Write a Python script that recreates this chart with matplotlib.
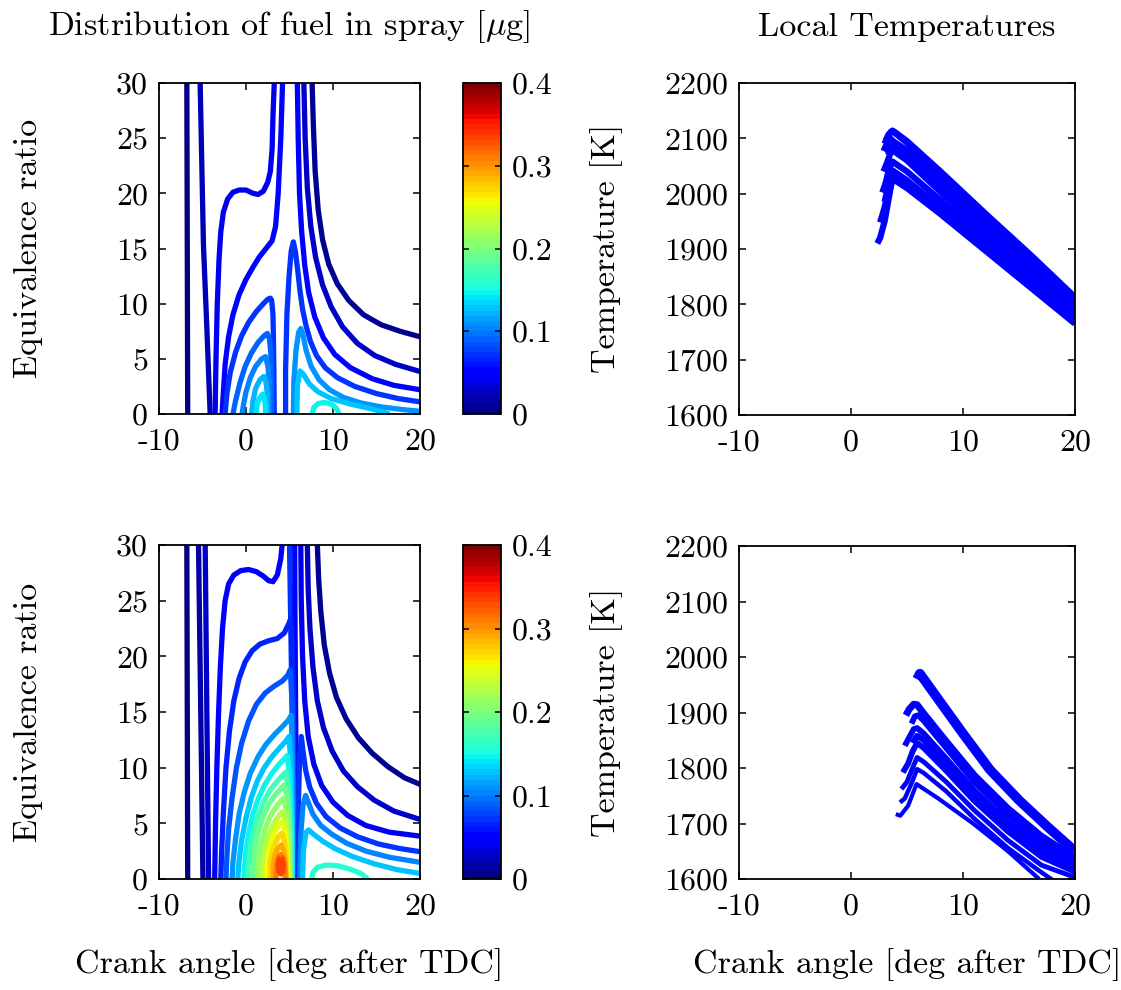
import matplotlib
matplotlib.use("Agg")
import matplotlib.pyplot as plt
from matplotlib.colors import Normalize
from matplotlib.cm import ScalarMappable

plt.rcParams['font.family'] = 'cmr10'
plt.rcParams['mathtext.fontset'] = 'cm'
plt.rcParams['axes.unicode_minus'] = False

# ---- fuel distribution, top panel: contour level [ug] and line points ----
top_levels = [0.005, 0.02, 0.04, 0.055, 0.075, 0.09, 0.105, 0.12, 0.14,
              0.008, 0.03, 0.045, 0.075, 0.11, 0.13, 0.15]
top_x = [
    [-6.8, -6.75, -6.7],
    [-5.27, -4.89, -4.5, -4.12],
    [3.25, 3.1, 3.0, 2.8, 2.5, 2.0, 1.4, 0.8, 0.0, -0.8, -1.5, -2.1, -2.6, -2.9, -3.1, -3.3, -3.45, -3.55],
    [4.2, 4.0, 3.7, 3.4, 3.0, 2.3, 1.5, 0.8, 0.0, -0.8, -1.5, -2.0, -2.4, -2.6, -2.75],
    [3.25, 3.2, 3.15, 3.1, 2.95, 2.8, 2.5, 2.0, 1.2, 0.3, -0.5, -1.2, -1.8, -2.2, -2.4],
    [2.95, 2.95, 2.85, 2.7, 2.45, 2.1, 1.4, 0.6, -0.1, -0.7, -1.2, -1.5],
    [2.65, 2.65, 2.55, 2.25, 1.8, 1.1, 0.5, 0.0, -0.3, -0.45],
    [2.45, 2.45, 2.3, 2.05, 1.6, 1.1, 0.8, 0.65],
    [2.25, 2.2, 1.9, 1.5, 1.25, 1.15],
    [7.6, 7.75, 7.95, 8.3, 8.8, 9.5, 10.5, 11.8, 13.5, 15.5, 17.7, 20],
    [6.65, 6.8, 7.05, 7.45, 8.0, 8.8, 9.8, 11.1, 12.8, 14.8, 17.2, 20],
    [5.9, 6.0, 6.15, 6.4, 6.75, 7.2, 7.9, 8.9, 10.2, 12.0, 14.5, 17.0, 20],
    [4.55, 4.55, 4.7, 4.95, 5.2, 5.45, 5.7, 5.95, 6.2, 6.5, 6.9, 7.4, 8.1, 9.1, 10.5, 12.5, 15.0, 17.5, 20],
    [5.45, 5.5, 5.75, 6.05, 6.3, 6.55, 6.9, 7.5, 8.4, 9.6, 11.2, 13.2, 15.5, 18.0, 20],
    [5.85, 5.9, 6.2, 6.6, 7.3, 8.3, 9.8, 12.0, 14.5, 16.5],
    [7.6, 7.8, 8.3, 9.0, 9.8, 10.4, 10.7],
]
top_y = [
    [30, 15, 0],
    [30, 15.3, 7.8, 0],
    [30, 27, 24, 22, 21, 20.2, 19.9, 20.0, 20.3, 20.3, 20.1, 19.5, 18.3, 16.5, 14, 10, 5, 0],
    [30, 25, 20, 17, 15.7, 15, 14.2, 13.3, 12.2, 10.8, 9, 7, 4.5, 2, 0],
    [0, 4, 7, 9, 10.3, 10.5, 10.4, 10.0, 9.3, 8.3, 7.1, 5.6, 3.8, 1.8, 0],
    [0, 3, 5.5, 6.8, 7.3, 7.1, 6.5, 5.5, 4.3, 2.8, 1.2, 0],
    [0, 2.5, 4.2, 5.2, 5.0, 4.3, 3.3, 2.0, 0.8, 0],
    [0, 1.8, 2.9, 3.4, 3.1, 2.3, 1.2, 0],
    [0, 1.0, 1.8, 1.4, 0.7, 0],
    [30, 26, 22, 18.5, 15.8, 13.6, 11.8, 10.3, 9.0, 8.1, 7.5, 7.0],
    [30, 25, 20.5, 17, 14.2, 11.7, 9.7, 7.9, 6.4, 5.3, 4.5, 3.85],
    [30, 25, 20, 16.5, 13.5, 11, 8.8, 6.9, 5.4, 4.2, 3.2, 2.6, 2.2],
    [0, 4, 9, 12.5, 14.8, 15.6, 14.6, 13, 11.2, 9.5, 8.0, 6.6, 5.3, 4.2, 3.3, 2.5, 1.85, 1.4, 1.1],
    [0, 3, 5.8, 7.4, 7.75, 7.2, 5.8, 4.3, 3.1, 2.2, 1.5, 1.0, 0.65, 0.4, 0.25],
    [0, 2.5, 3.9, 3.6, 2.7, 2.0, 1.4, 0.9, 0.45, 0],
    [0, 0.6, 0.95, 1.05, 0.9, 0.5, 0],
]

# ---- fuel distribution, bottom panel ----
bot_levels = [0.005, 0.015, 0.025, 0.045, 0.075, 0.055,
              0.065, 0.085, 0.11, 0.13, 0.15, 0.17, 0.19, 0.21, 0.23,
              0.25, 0.27, 0.29, 0.31, 0.335,
              0.008, 0.025, 0.04, 0.07, 0.10, 0.13, 0.16]
bot_x = [
    [-6.8, -6.75, -6.7],
    [-5.46, -5.2, -4.95],
    [-4.69, -4.5, -4.3],
    [4.15, 4.0, 3.6, 3.1, 2.6, 2.0, 1.2, 0.3, -0.6, -1.4, -2.0, -2.4, -2.7, -2.95, -3.15, -3.35, -3.5, -3.6],
    [5.0, 5.1, 5.2, 5.3, 5.4, 5.5, 5.55],
    [5.6, 5.62, 5.66, 5.7, 5.75, 5.8],
    [5.55, 5.5, 5.45, 5.3, 5.15, 4.9, 4.4, 3.6, 2.6, 1.6, 0.7, -0.1, -0.8, -1.4, -1.9, -2.3, -2.6, -2.8, -2.9],
    [5.5, 5.45, 5.35, 5.1, 4.8, 4.2, 3.2, 2.2, 1.2, 0.3, -0.5, -1.1, -1.6, -2.0, -2.2, -2.3],
    [5.45, 5.4, 5.3, 5.2, 4.9, 4.2, 3.3, 2.3, 1.4, 0.5, -0.2, -0.8, -1.2, -1.5, -1.6],
    [5.4, 5.3, 5.15, 4.95, 4.6, 3.9, 3.0, 2.1, 1.3, 0.6, 0.0, -0.5, -0.8, -0.95],
    [5.3, 5.2, 5.0, 4.75, 4.4, 3.7, 2.9, 2.1, 1.4, 0.8, 0.3, -0.05, -0.25],
    [5.2, 5.1, 4.85, 4.55, 4.2, 3.5, 2.7, 2.0, 1.4, 0.9, 0.5, 0.3, 0.2],
    [5.1, 5.0, 4.75, 4.4, 4.0, 3.3, 2.6, 2.0, 1.5, 1.1, 0.85, 0.75],
    [5.0, 4.9, 4.65, 4.3, 3.9, 3.3, 2.7, 2.2, 1.8, 1.5, 1.35, 1.3],
    [4.9, 4.8, 4.55, 4.2, 3.8, 3.3, 2.8, 2.4, 2.1, 1.9, 1.85],
    [4.8, 4.7, 4.45, 4.15, 3.75, 3.3, 2.9, 2.6, 2.4, 2.35],
    [4.7, 4.6, 4.4, 4.1, 3.75, 3.35, 3.0, 2.8, 2.75],
    [4.6, 4.5, 4.3, 4.05, 3.7, 3.35, 3.15, 3.1],
    [4.5, 4.45, 4.25, 4.0, 3.7, 3.5, 3.45, 3.45],
    [4.0, 4.2, 4.28, 4.2, 4.0, 3.8, 3.72, 3.8, 4.0],
    [8.2, 8.35, 8.6, 9.0, 9.6, 10.4, 11.5, 12.9, 14.5, 16.3, 18.2, 20],
    [7.05, 7.15, 7.35, 7.7, 8.2, 8.9, 9.9, 11.2, 12.8, 14.7, 17.0, 20],
    [6.3, 6.35, 6.5, 6.75, 7.15, 7.8, 8.7, 10.0, 11.7, 13.8, 16.5, 20],
    [5.95, 6.0, 6.15, 6.35, 6.55, 6.85, 7.3, 8.1, 9.2, 10.8, 12.8, 15.2, 17.6, 20],
    [6.2, 6.3, 6.55, 6.85, 7.15, 7.7, 8.6, 9.9, 11.6, 13.8, 16.5, 20],
    [6.5, 6.6, 6.9, 7.2, 7.8, 8.8, 10.3, 12.3, 14.8, 17.3, 20],
    [7.55, 7.7, 8.2, 9.2, 10.5, 11.9, 13.2, 14.0],
]
bot_y = [
    [30, 15, 0],
    [30, 15, 0],
    [30, 15, 0],
    [30, 28.8, 27.3, 26.7, 26.8, 27.2, 27.6, 27.8, 27.7, 27.3, 26.5, 25.0, 22.5, 19, 15, 10, 5, 0],
    [30, 25, 20, 15, 10, 5, 0],
    [30, 25, 20, 15, 10, 0],
    [0, 8, 16, 21, 23.4, 22.9, 22.1, 21.6, 21.4, 21.1, 20.5, 19.5, 18.0, 16.0, 13.3, 10, 6, 2.5, 0],
    [0, 8, 15, 18.8, 18.3, 17.8, 17.3, 16.7, 15.7, 14.2, 12.2, 10, 7.3, 4.5, 2, 0],
    [0, 7, 12, 14.7, 14.3, 13.7, 13.0, 12.1, 11.0, 9.5, 7.8, 5.8, 3.6, 1.5, 0],
    [0, 6, 10.5, 12.8, 12.4, 11.8, 11.0, 10.0, 8.8, 7.3, 5.5, 3.5, 1.6, 0],
    [0, 5, 9.3, 11.1, 10.8, 10.2, 9.4, 8.4, 7.2, 5.8, 4.1, 2.3, 0],
    [0, 4.5, 8.2, 9.6, 9.3, 8.7, 7.9, 6.9, 5.7, 4.3, 2.7, 1.2, 0],
    [0, 4, 7.2, 8.45, 8.1, 7.5, 6.7, 5.7, 4.5, 3.1, 1.6, 0],
    [0, 3.5, 6.2, 7.25, 6.9, 6.3, 5.5, 4.5, 3.3, 2.0, 0.8, 0],
    [0, 3, 5.2, 6.05, 5.7, 5.1, 4.3, 3.3, 2.2, 1.0, 0],
    [0, 2.5, 4.4, 5.15, 4.8, 4.2, 3.4, 2.4, 1.3, 0],
    [0, 2.0, 3.5, 4.1, 3.8, 3.2, 2.4, 1.4, 0],
    [0, 1.5, 2.6, 3.05, 2.8, 2.2, 1.3, 0],
    [0, 1.1, 1.9, 2.2, 1.95, 1.3, 0.5, 0],
    [1.95, 1.75, 1.2, 0.65, 0.45, 0.65, 1.2, 1.75, 1.95],
    [30, 27, 24, 21, 18.5, 16.3, 14.4, 12.7, 11.3, 10.1, 9.1, 8.5],
    [30, 26, 22.5, 19, 16, 13.6, 11.5, 9.7, 8.3, 7.1, 6.1, 5.35],
    [30, 25, 20, 16, 12.8, 10.3, 8.4, 6.9, 5.7, 4.8, 4.2, 3.85],
    [0, 6, 10.5, 12.8, 11.5, 9.8, 8.3, 6.8, 5.6, 4.6, 3.8, 3.15, 2.75, 2.45],
    [0, 4, 6.6, 7.5, 6.9, 5.8, 4.8, 4.0, 3.2, 2.5, 1.95, 1.5],
    [0, 2.5, 4.2, 4.4, 4.0, 3.4, 2.7, 2.0, 1.35, 0.85, 0.5],
    [0, 0.6, 1.05, 1.25, 1.2, 0.9, 0.5, 0],
]

# ---- local temperatures [K] vs crank angle ----
temp_top_x = [
    [2.35, 2.6, 3.0, 3.4, 3.7, 5, 8, 12, 16, 20],
    [3.0, 3.4, 3.7, 5, 8, 12, 16, 20],
    [2.6, 3.0, 3.4, 3.7, 5, 8, 12, 16, 20],
    [2.8, 3.1, 3.4, 3.7, 5, 8, 12, 16, 20],
    [2.9, 3.2, 3.5, 3.75, 5, 8, 12, 16, 20],
    [3.3, 3.6, 3.8, 5, 8, 12, 16, 20],
    [2.9, 3.2, 3.5, 3.75, 5, 8, 12, 16, 20],
    [3.0, 3.3, 3.6, 3.9, 5, 8, 12, 16, 20],
    [3.1, 3.4, 3.7, 4.0, 5, 8, 12, 16, 20],
]
temp_top_y = [
    [1910, 1920, 1950, 1995, 2027, 2010, 1963, 1897, 1831, 1765],
    [1985, 2020, 2035, 2017, 1969, 1902, 1835, 1768],
    [1948, 1975, 2015, 2042, 2024, 1975, 1906, 1838, 1771],
    [2002, 2020, 2045, 2058, 2040, 1988, 1916, 1846, 1778],
    [2040, 2055, 2072, 2078, 2060, 2003, 1928, 1856, 1786],
    [2070, 2085, 2087, 2070, 2012, 1935, 1862, 1790],
    [2077, 2090, 2100, 2095, 2078, 2018, 1940, 1866, 1795],
    [2090, 2105, 2112, 2110, 2092, 2030, 1951, 1876, 1804],
    [2095, 2108, 2114, 2110, 2095, 2040, 1964, 1890, 1813],
]
temp_bot_x = [
    [5.9, 6.15, 8, 10, 12.4, 15, 17.5, 20],
    [4.9, 5.2, 5.6, 5.9, 6.5, 8.5, 11, 14, 17, 20],
    [5.4, 5.7, 6.0, 6.5, 8.5, 11, 14, 17, 20],
    [4.8, 5.2, 5.6, 5.9, 6.5, 8.5, 11, 14, 17, 20],
    [5.5, 5.9, 6.5, 8.5, 11, 14, 17, 20],
    [4.63, 5.1, 5.5, 5.9, 6.5, 8.5, 11, 14, 17, 20],
    [4.5, 5.0, 5.5, 5.9, 6.5, 8.5, 11, 14, 17, 20],
    [4.37, 4.8, 5.4, 5.9, 6.5, 8.5, 11, 14, 17, 18.6],
    [4.0, 4.4, 5.1, 5.85, 7.8, 10.9, 13.9, 16.8],
]
temp_bot_y = [
    [1960, 1970, 1918, 1862, 1797, 1742, 1695, 1650],
    [1895, 1906, 1915, 1914, 1898, 1848, 1787, 1727, 1677, 1638],
    [1880, 1893, 1895, 1885, 1836, 1775, 1716, 1667, 1632],
    [1840, 1855, 1870, 1872, 1862, 1817, 1760, 1703, 1657, 1626],
    [1845, 1858, 1850, 1806, 1750, 1694, 1648, 1620],
    [1792, 1808, 1830, 1845, 1836, 1795, 1741, 1686, 1640, 1613],
    [1762, 1775, 1800, 1819, 1811, 1775, 1724, 1670, 1625, 1603],
    [1738, 1745, 1772, 1798, 1791, 1758, 1709, 1656, 1612, 1590],
    [1717, 1714, 1732, 1771, 1745, 1700, 1652, 1600],
]
temp_bot_lw = [7, 5, 4.2, 4.2, 4.2, 4.2, 3.5, 3.2, 3.0]

x_ticks = [-10, 0, 10, 20]
phi_ticks = [0, 5, 10, 15, 20, 25, 30]
temp_ticks = [1600, 1700, 1800, 1900, 2000, 2100, 2200]
cbar_ticks = [0, 0.1, 0.2, 0.3, 0.4]

FS_TICK = 23
FS_LAB = 24.5

cmap = plt.get_cmap('jet', 64)
norm = Normalize(0, 0.4)

fig = plt.figure(figsize=(11.21, 9.9), dpi=100)
W, H = 1121.0, 990.0


def rect(l, t, r, b):
    return [l / W, 1 - b / H, (r - l) / W, (b - t) / H]


def style(ax):
    ax.tick_params(direction='in', top=True, right=True, length=5, width=1.1,
                   labelsize=FS_TICK)
    ax.tick_params(axis='x', pad=10)
    ax.tick_params(axis='y', pad=8)
    for s in ax.spines.values():
        s.set_linewidth(1.3)


def fuel_panel(ax, cax, levels, xs, ys):
    for lev, x, y in zip(levels, xs, ys):
        ax.plot(x, y, color=cmap(norm(lev)), lw=3.8, solid_capstyle='butt',
                solid_joinstyle='round')
    ax.set_xlim(-10, 20)
    ax.set_ylim(0, 30)
    ax.set_xticks(x_ticks)
    ax.set_xticklabels([str(v) for v in x_ticks])
    ax.set_yticks(phi_ticks)
    ax.set_yticklabels([str(v) for v in phi_ticks])
    style(ax)
    cb = fig.colorbar(ScalarMappable(norm=norm, cmap=cmap), cax=cax)
    cb.set_ticks(cbar_ticks)
    cb.set_ticklabels(['0', '0.1', '0.2', '0.3', '0.4'])
    cax.tick_params(direction='in', left=True, right=True, length=4, width=1.1,
                    labelsize=FS_TICK, pad=8)
    cb.outline.set_linewidth(1.3)


def temp_panel(ax, xs, ys, lws):
    for x, y, lw in zip(xs, ys, lws):
        ax.plot(x, y, color='#0000ff', lw=lw, solid_capstyle='butt',
                solid_joinstyle='round')
    ax.set_xlim(-10, 20)
    ax.set_ylim(1600, 2200)
    ax.set_xticks(x_ticks)
    ax.set_xticklabels([str(v) for v in x_ticks])
    ax.set_yticks(temp_ticks)
    ax.set_yticklabels([str(v) for v in temp_ticks])
    style(ax)


ax1 = fig.add_axes(rect(159, 83, 420, 414))
cax1 = fig.add_axes(rect(463, 83, 501, 414))
ax2 = fig.add_axes(rect(739, 83, 1075, 415))
ax3 = fig.add_axes(rect(159, 545, 420, 879))
cax3 = fig.add_axes(rect(463, 545, 501, 879))
ax4 = fig.add_axes(rect(739, 546, 1075, 879))

fuel_panel(ax1, cax1, top_levels, top_x, top_y)
fuel_panel(ax3, cax3, bot_levels, bot_x, bot_y)
temp_panel(ax2, temp_top_x, temp_top_y, [4.5] * len(temp_top_x))
temp_panel(ax4, temp_bot_x, temp_bot_y, temp_bot_lw)

fig.text(289 / W, 1 - 27 / H, r'Distribution of fuel in spray [$\mu$g]',
         ha='center', va='center', fontsize=FS_LAB)
fig.text(907 / W, 1 - 27 / H, 'Local Temperatures', ha='center', va='center',
         fontsize=FS_LAB)
for xc in (289, 907):
    fig.text(xc / W, 1 - 965 / H, 'Crank angle [deg after TDC]', ha='center',
             va='center', fontsize=FS_LAB)
for yc in (248, 712):
    fig.text(28 / W, 1 - yc / H, 'Equivalence ratio', rotation=90, ha='center',
             va='center', fontsize=FS_LAB)
    fig.text(607 / W, 1 - yc / H, 'Temperature [K]', rotation=90, ha='center',
             va='center', fontsize=FS_LAB)

fig.savefig('out.png', dpi=100)
